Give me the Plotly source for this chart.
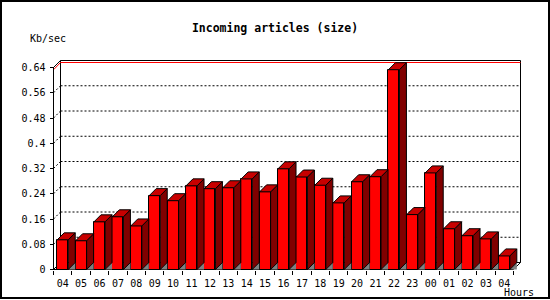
import plotly.graph_objects as go

# ---- data ----
hours = ["04", "05", "06", "07", "08", "09", "10", "11", "12", "13", "14", "15",
         "16", "17", "18", "19", "20", "21", "22", "23", "00", "01", "02", "03", "04"]
kbps = [0.094, 0.091, 0.151, 0.167, 0.138, 0.234, 0.218, 0.265, 0.256, 0.259,
        0.287, 0.246, 0.319, 0.293, 0.267, 0.211, 0.278, 0.294, 0.633, 0.174,
        0.306, 0.129, 0.107, 0.097, 0.043]
y_ticks = [0, 0.08, 0.16, 0.24, 0.32, 0.4, 0.48, 0.56, 0.64]
y_ticktext = ["0", "0.08", "0.16", "0.24", "0.32", "0.4", "0.48", "0.56", "0.64"]
y_max = 0.64

# ---- geometry ----
W, H = 550, 300
L_PIX, R_PIX, T_PIX, B_PIX = 48, 526, 55, 274
SX = 18.4            # px per category
SY = 202 / 0.64      # px per unit
X0_PIX = 53.5        # pixel of x=-0.5
Y0_PIX = 269.5       # pixel of y=0
DEPTH = 7            # 3D depth in pixels
DX = DEPTH / SX
DY = DEPTH / SY
BW = 0.6             # bar width (category units)

xa = -0.5 - (X0_PIX - L_PIX) / SX
xb = xa + (R_PIX - L_PIX) / SX
ya = -(B_PIX - Y0_PIX) / SY
yb = ya + (B_PIX - T_PIX) / SY

def pxx(p):
    return (p - L_PIX) / (R_PIX - L_PIX)

def pxy(p):
    return (B_PIX - p) / (B_PIX - T_PIX)

n = len(kbps)
xs = list(range(n))
x_first, x_last = -0.5, n - 0.5

fig = go.Figure()

# front faces
fig.add_trace(go.Bar(x=xs, y=kbps, width=BW,
                     marker=dict(color="#FF0000", line=dict(color="black", width=1)),
                     hoverinfo="skip"))

# floor shadows, side faces and top faces
gx, gy, sxs, sys_, tx, ty = [], [], [], [], [], []
for x, v in zip(xs, kbps):
    xl, xr = x - BW / 2, x + BW / 2
    gx += [xr, xr + DX, xr + DX, xr, None]
    gy += [0, DY, 0, 0, None]
    sxs += [xr, xr + DX, xr + DX, xr, xr, None]
    sys_ += [0, DY, v + DY, v, 0, None]
    tx += [xl, xr, xr + DX, xl + DX, xl, None]
    ty += [v, v, v + DY, v + DY, v, None]

fig.add_trace(go.Scatter(x=gx, y=gy, mode="lines", fill="toself", fillcolor="#808080",
                         line=dict(width=0, color="#808080"), hoverinfo="skip"))
fig.add_trace(go.Scatter(x=sxs, y=sys_, mode="lines", fill="toself", fillcolor="#800000",
                         line=dict(width=1, color="black"), hoverinfo="skip"))
fig.add_trace(go.Scatter(x=tx, y=ty, mode="lines", fill="toself", fillcolor="#C80000",
                         line=dict(width=1, color="black"), hoverinfo="skip"))

shapes = []
# back wall
shapes.append(dict(type="rect", xref="x", yref="y", x0=x_first + DX, x1=x_last + DX,
                   y0=DY, y1=y_max + DY, line=dict(color="black", width=1), layer="below"))
# grid lines on back wall + dotted connectors
for t in y_ticks[1:-1]:
    shapes.append(dict(type="line", xref="x", yref="y", x0=x_first + DX, x1=x_last + DX,
                       y0=t + DY, y1=t + DY, line=dict(color="black", width=1, dash="2px,2px"),
                       layer="below"))
    shapes.append(dict(type="line", xref="x", yref="y", x0=x_first, x1=x_first + DX,
                       y0=t, y1=t + DY, line=dict(color="black", width=1, dash="2px,2px"),
                       layer="below"))
# red max line
red_off = 2 / SY
shapes.append(dict(type="line", xref="x", yref="y", x0=x_first + DX, x1=x_last + DX,
                   y0=y_max + DY - red_off, y1=y_max + DY - red_off,
                   line=dict(color="#FF0000", width=1), layer="below"))
shapes.append(dict(type="line", xref="x", yref="y", x0=x_first + 0.3 / SX, x1=x_first + DX,
                   y0=y_max - red_off, y1=y_max + DY - red_off,
                   line=dict(color="#FF0000", width=1), layer="below"))
# front axis, baseline and diagonals
shapes.append(dict(type="line", xref="x", yref="y", x0=x_first, x1=x_first, y0=0, y1=y_max,
                   line=dict(color="black", width=1), layer="below"))
shapes.append(dict(type="line", xref="x", yref="y", x0=x_first, x1=x_last, y0=0, y1=0,
                   line=dict(color="black", width=1), layer="below"))
shapes.append(dict(type="line", xref="x", yref="y", x0=x_first, x1=x_first + DX,
                   y0=y_max, y1=y_max + DY, line=dict(color="black", width=1), layer="below"))
shapes.append(dict(type="line", xref="x", yref="y", x0=x_last, x1=x_last + DX,
                   y0=0, y1=DY, line=dict(color="black", width=1), layer="below"))
shapes.append(dict(type="line", xref="x", yref="y", x0=x_first, x1=x_first + DX,
                   y0=0, y1=DY, line=dict(color="black", width=1), layer="below"))
# outer border
shapes.append(dict(type="rect", xref="paper", yref="paper", x0=pxx(1), x1=pxx(549),
                   y0=pxy(298), y1=pxy(1), line=dict(color="black", width=2), layer="above"))

mono = "DejaVu Sans Mono"
fig.update_layout(
    width=W, height=H,
    margin=dict(l=L_PIX, r=W - R_PIX, t=T_PIX, b=H - B_PIX, pad=0),
    paper_bgcolor="white", plot_bgcolor="white",
    showlegend=False,
    bargap=0,
    font=dict(family=mono, size=10, color="black"),
    title=dict(text="Incoming articles (size)", x=0.5, xref="container", xanchor="center",
               y=1 - 28 / H, yref="container", yanchor="middle",
               font=dict(family=mono, size=11.5, color="black", weight="bold")),
    xaxis=dict(range=[xa, xb], anchor="free", position=pxy(Y0_PIX),
               showgrid=False, zeroline=False, showline=False,
               tickmode="array", tickvals=xs, ticktext=hours, ticks="",
               ticklabelstandoff=6,
               tickfont=dict(family=mono, size=10, color="black"),
               minor=dict(tickmode="array", tickvals=[i - 0.5 for i in range(n + 1)],
                          ticks="outside", ticklen=4, tickcolor="black", tickwidth=1,
                          showgrid=False)),
    yaxis=dict(range=[ya, yb], anchor="free", position=pxx(X0_PIX),
               showgrid=False, zeroline=False, showline=False,
               tickmode="array", tickvals=y_ticks, ticktext=y_ticktext,
               ticks="outside", ticklen=4, tickcolor="black", tickwidth=1,
               ticklabelstandoff=2,
               tickfont=dict(family=mono, size=10, color="black")),
    shapes=shapes,
    annotations=[
        dict(text="Kb/sec", xref="paper", yref="paper", x=pxx(47.5), y=pxy(38),
             xanchor="center", yanchor="middle", showarrow=False,
             font=dict(family=mono, size=10, color="black")),
        dict(text="Hours", xref="paper", yref="paper", x=pxx(519), y=pxy(292),
             xanchor="center", yanchor="middle", showarrow=False,
             font=dict(family=mono, size=10, color="black")),
    ],
)

fig.write_html("out.html")
